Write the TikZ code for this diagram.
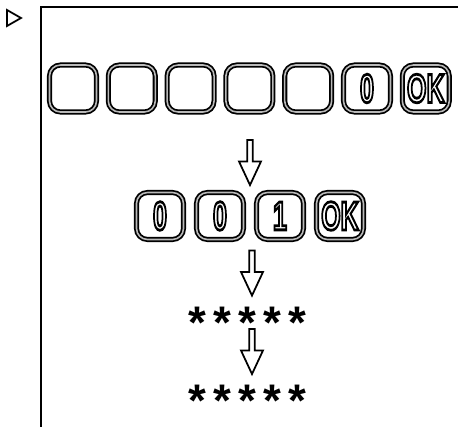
\documentclass[tikz,border=0pt]{standalone}
\usepackage{fontspec}
\setmainfont{Liberation Sans}
\usetikzlibrary{shapes.arrows}

% outlined key labels
\newcommand{\keytxt}[1]{\scalebox{0.62}[1]{\special{pdf:literal direct 1 Tr 1.6 w}#1\special{pdf:literal direct 0 Tr}}}

\begin{document}
\begin{tikzpicture}[x=0.02cm, y=-0.02cm,
    key/.style={draw=black, line width=1pt, double=gray!55, double distance=0.9pt, rounded corners=0.22cm,
        minimum width=0.94cm, minimum height=0.94cm, inner sep=0pt, font=\fontsize{23}{23}\selectfont\bfseries},
    downarrow/.style={single arrow, draw, line width=1pt, rotate=-90, minimum height=0.9cm, minimum width=0.44cm,
        single arrow head extend=0.05cm, single arrow tip angle=50, inner sep=0pt},
    star/.style={font=\fontsize{26}{26}\selectfont\bfseries, inner sep=0pt, anchor=base}]
        \useasboundingbox (0,0) rectangle (458,427);

        % Frame and marker
        \draw[line width=1.1pt] (41,427) |- (458,7);
        \draw[line width=1pt] (7,10) -- (21,18) -- (7,26) -- cycle;

        % First row of keys
        \foreach \i/\t in {1/,2/,3/,4/,5/,6/0,7/OK} {
            \node[key] (k\i) at ({73+(\i-1)*58.8},88.5) {\keytxt{\t}};
        }

        \node[downarrow] (a1) at (250,159.5) {};

        % Second row of keys
        \foreach \i/\t in {1/0,2/0,3/1,4/OK} {
            \node[key] (m\i) at ({160+(\i-1)*60},216) {\keytxt{\t}};
        }

        \node[downarrow] (a2) at (252,270) {};

        % Hidden code
        \foreach \i in {1,...,5} {
            \node[star] (s\i) at ({197+(\i-1)*25},338) {*};
        }

        \node[downarrow] (a3) at (252,348.5) {};

        \foreach \i in {1,...,5} {
            \node[star] (t\i) at ({197+(\i-1)*25},416) {*};
        }

    \end{tikzpicture}
\end{document}
